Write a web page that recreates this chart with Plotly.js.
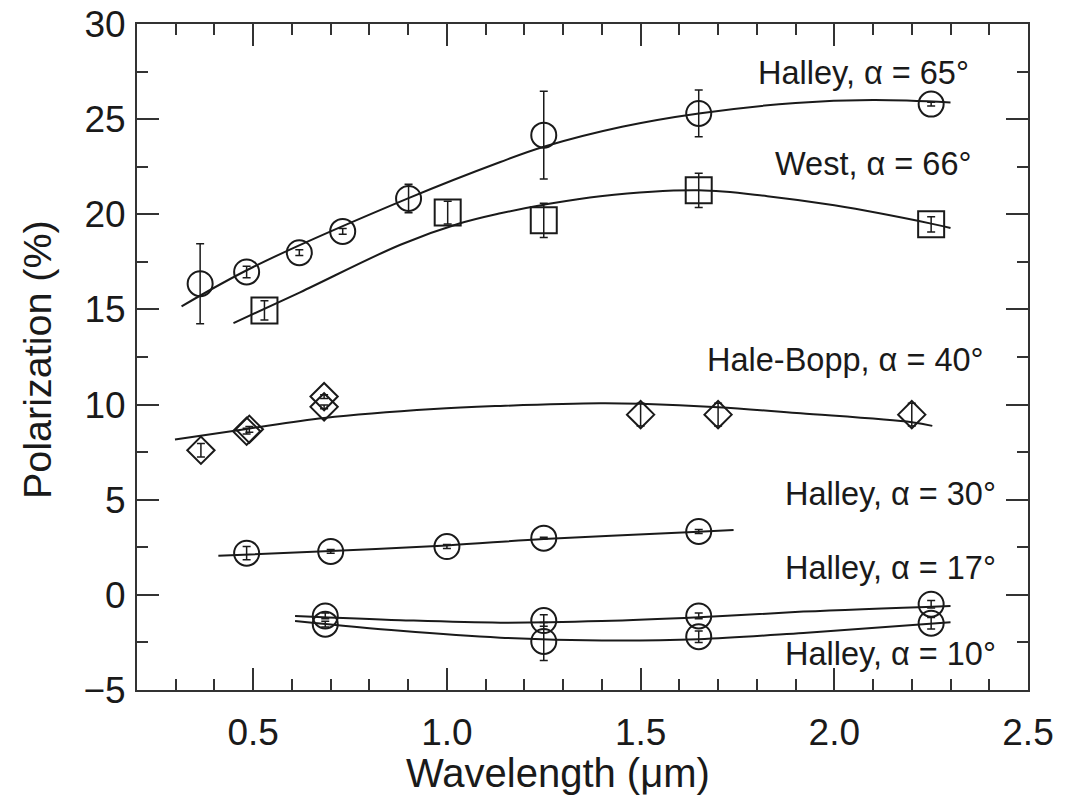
<!DOCTYPE html>
<html>
<head>
<meta charset="utf-8">
<script src="https://cdn.plot.ly/plotly-3.0.1.min.js"></script>
<style>html,body{margin:0;padding:0;background:#fff;}#chart{width:1071px;height:797px;}</style>
</head>
<body>
<div id="chart"></div>
<script>
// Halley, alpha = 65 deg (open circles)
const h65X = [0.363, 0.483, 0.619, 0.731, 0.901, 1.25, 1.65, 2.25];
const h65Y = [16.35, 16.97, 17.98, 19.10, 20.83, 24.16, 25.30, 25.79];
const h65Err = [2.1, 0.3, 0.15, 0.15, 0.75, 2.3, 1.23, 0.1];
const h65FitX = [0.315, 0.5, 0.901, 1.138, 1.25, 1.452, 1.65, 1.90, 2.10, 2.30];
const h65FitY = [15.16, 17.23, 20.85, 22.75, 23.55, 24.60, 25.30, 25.85, 26.0, 25.88];

// West, alpha = 66 deg (open squares)
const westX = [0.529, 1.002, 1.25, 1.65, 2.25];
const westY = [14.95, 20.09, 19.68, 21.26, 19.47];
const westErr = [0.5, 0.6, 0.9, 0.9, 0.4];
const westFitX = [0.449, 0.621, 0.880, 1.03, 1.138, 1.25, 1.396, 1.65, 1.827, 2.0, 2.25, 2.30];
const westFitY = [14.28, 15.90, 18.40, 19.50, 20.05, 20.50, 20.95, 21.26, 20.95, 20.47, 19.51, 19.28];

// Hale-Bopp, alpha = 40 deg (open diamonds)
const hbX = [0.365, 0.483, 0.49, 0.683, 0.683, 1.50, 1.70, 2.20];
const hbY = [7.60, 8.60, 8.70, 10.42, 9.88, 9.47, 9.47, 9.47];
const hbErr = [0.35, 0.15, 0.15, 0.1, 0.1, 0.6, 0.6, 0.6];
const hbFitX = [0.298, 0.483, 0.683, 0.966, 1.138, 1.396, 1.50, 1.70, 1.913, 2.20, 2.253];
const hbFitY = [8.16, 8.72, 9.30, 9.77, 9.93, 10.07, 10.04, 9.86, 9.54, 9.07, 8.88];

// Halley, alpha = 30 deg
const h30X = [0.483, 0.70, 1.0, 1.25, 1.65];
const h30Y = [2.19, 2.28, 2.54, 2.98, 3.33];
const h30Err = [0.35, 0.1, 0.1, 0.05, 0.1];
const h30FitX = [0.41, 0.70, 1.0, 1.25, 1.65, 1.74];
const h30FitY = [2.05, 2.30, 2.60, 2.93, 3.32, 3.41];

// Halley, alpha = 17 deg
const h17X = [0.686, 1.25, 1.65, 2.25];
const h17Y = [-1.11, -1.35, -1.11, -0.49];
const h17Err = [0.15, 0.3, 0.15, 0.2];
const h17FitX = [0.608, 0.88, 1.138, 1.40, 1.65, 1.92, 2.30];
const h17FitY = [-1.11, -1.33, -1.46, -1.38, -1.18, -0.88, -0.58];

// Halley, alpha = 10 deg
const h10X = [0.686, 1.25, 1.65, 2.25];
const h10Y = [-1.54, -2.45, -2.20, -1.49];
const h10Err = [0.15, 1.0, 0.3, 0.3];
const h10FitX = [0.608, 0.88, 1.138, 1.40, 1.65, 1.92, 2.30];
const h10FitY = [-1.37, -1.89, -2.25, -2.40, -2.33, -2.00, -1.44];

const labelTexts = ['Halley, \u03b1 = 65\u00b0', 'West, \u03b1 = 66\u00b0', 'Hale-Bopp, \u03b1 = 40\u00b0',
                    'Halley, \u03b1 = 30\u00b0', 'Halley, \u03b1 = 17\u00b0', 'Halley, \u03b1 = 10\u00b0'];
const xTitle = 'Wavelength (\u03bcm)';
const yTitle = 'Polarization (%)';

const FONT = 'Liberation Sans, Arial, Helvetica, sans-serif';
const INK = '#1a1a1a';

function pts(x, y, err, symbol, size) {
  return {
    type: 'scatter', mode: 'markers', x: x, y: y, showlegend: false, hoverinfo: 'skip',
    marker: {symbol: symbol, size: size, color: INK, line: {color: INK, width: 2}},
    error_y: {type: 'data', array: err, visible: true, color: INK, thickness: 1.5, width: 4}
  };
}
function fit(x, y) {
  return {type: 'scatter', mode: 'lines', x: x, y: y, showlegend: false, hoverinfo: 'skip',
          line: {color: INK, width: 2, shape: 'spline', smoothing: 1}};
}

const data = [
  fit(h65FitX, h65FitY), pts(h65X, h65Y, h65Err, 'circle-open', 25),
  fit(westFitX, westFitY), pts(westX, westY, westErr, 'square-open', 26),
  fit(hbFitX, hbFitY), pts(hbX, hbY, hbErr, 'diamond-open', 21),
  fit(h30FitX, h30FitY), pts(h30X, h30Y, h30Err, 'circle-open', 25),
  fit(h17FitX, h17FitY), pts(h17X, h17Y, h17Err, 'circle-open', 25),
  fit(h10FitX, h10FitY), pts(h10X, h10Y, h10Err, 'circle-open', 25)
];

const labelPos = [[2.352, 27.42], [2.358, 22.63], [2.391, 12.32], [2.422, 5.32], [2.422, 1.42], [2.422, -3.11]];
const annotations = labelTexts.map((t, i) => ({
  text: t, x: labelPos[i][0], y: labelPos[i][1], xref: 'x', yref: 'y',
  xanchor: 'right', yanchor: 'middle', showarrow: false,
  font: {family: FONT, size: 32.5, color: INK}
}));
annotations.push({
  text: xTitle, xref: 'paper', yref: 'paper', x: 0.4725, y: -0.1246,
  xanchor: 'center', yanchor: 'middle', showarrow: false,
  font: {family: FONT, size: 40, color: INK}
});
annotations.push({
  text: yTitle, xref: 'paper', yref: 'paper', x: -0.1122, y: 0.4955, textangle: -90,
  xanchor: 'center', yanchor: 'middle', showarrow: false,
  font: {family: FONT, size: 39.5, color: INK}
});

const axisCommon = {
  showgrid: false, zeroline: false, showline: true, linecolor: '#333', linewidth: 2,
  mirror: 'allticks', ticks: 'inside', tickcolor: '#333', tickwidth: 2, ticklen: 22,
  tickfont: {family: FONT, size: 37, color: INK}
};

const layout = {
  width: 1071, height: 797,
  margin: {l: 137, r: 43, t: 24, b: 107},
  paper_bgcolor: '#fff', plot_bgcolor: '#fff',
  font: {family: FONT, color: INK},
  xaxis: Object.assign({}, axisCommon, {
    range: [0.2, 2.5], tick0: 0.5, dtick: 0.5, tickformat: '.1f', ticklabelstandoff: 9,
    minor: {dtick: 0.1, tick0: 0.2, ticks: 'inside', ticklen: 11, tickcolor: '#333', tickwidth: 2}
  }),
  yaxis: Object.assign({}, axisCommon, {
    range: [-5, 30], tick0: 0, dtick: 5, ticklabelstandoff: 2,
    minor: {dtick: 2.5, ticks: 'inside', ticklen: 11, tickcolor: '#333', tickwidth: 2}
  }),
  annotations: annotations
};

Plotly.newPlot('chart', data, layout, {displayModeBar: false, staticPlot: true});
</script>
</body>
</html>
